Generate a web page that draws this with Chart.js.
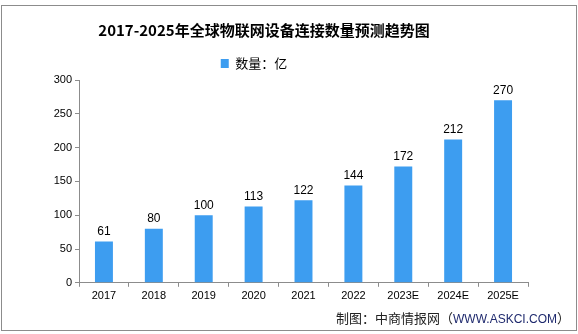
<!DOCTYPE html>
<html>
<head>
<meta charset="utf-8">
<script src="https://cdn.jsdelivr.net/npm/chart.js@4"></script>
<style>
  html, body { margin: 0; padding: 0; background: #fff; }
  #wrap { position: relative; width: 578px; height: 334px; }
  #frame {
    position: absolute; left: 1px; top: 5px; width: 576px; height: 326px;
    box-sizing: border-box; border: 1px solid #8c8c8c; pointer-events: none;
  }
  #source {
    position: absolute; right: 8px; top: 308px; white-space: nowrap;
    font: 13px "Noto Sans CJK SC", sans-serif; color: #222;
  }
  #source span { font: 12px "Liberation Sans", sans-serif; color: #1f2a6e; }
</style>
</head>
<body>
<div id="wrap">
  <canvas id="chart" width="578" height="334"></canvas>
  <div id="frame"></div>
  <div id="source">制图：中商情报网（<span>WWW.ASKCI.COM</span>）</div>
</div>
<script>
const years = ['2017', '2018', '2019', '2020', '2021', '2022', '2023E', '2024E', '2025E'];
const counts = [61, 80, 100, 113, 122, 144, 172, 212, 270];
const yTicks = [0, 50, 100, 150, 200, 250, 300];

const axisColor = '#8c8c8c';
const barColor = '#3d9df0';

// Value labels above each bar
const valueLabels = {
  id: 'valueLabels',
  afterDatasetsDraw(chart) {
    const ctx = chart.ctx;
    const meta = chart.getDatasetMeta(0);
    ctx.save();
    ctx.font = '12px "Liberation Sans", sans-serif';
    ctx.fillStyle = '#000';
    ctx.textAlign = 'center';
    ctx.textBaseline = 'bottom';
    meta.data.forEach((bar, i) => {
      ctx.fillText(String(counts[i]), bar.x, bar.y - 4);
    });
    ctx.restore();
  }
};

// Legend sits a little left of centre in the original
const legendShift = {
  id: 'legendShift',
  afterLayout(chart) {
    chart.legend.right -= 20;
  }
};

new Chart(document.getElementById('chart'), {
  type: 'bar',
  data: {
    labels: years,
    datasets: [{
      label: '数量：亿',
      data: counts,
      backgroundColor: barColor,
      barPercentage: 0.36,
      categoryPercentage: 1,
    }]
  },
  options: {
    responsive: false,
    animation: false,
    layout: { padding: { left: 0, right: 50, top: 0, bottom: 28 } },
    plugins: {
      title: {
        display: true,
        text: '2017-2025年全球物联网设备连接数量预测趋势图',
        color: '#000',
        font: { family: '"Noto Sans CJK SC", sans-serif', size: 15, weight: 'bold' },
        padding: { top: 21, bottom: 8 },
      },
      legend: {
        position: 'top',
        labels: {
          color: '#000',
          boxWidth: 8,
          boxHeight: 9,
          font: { family: '"Noto Sans CJK SC", sans-serif', size: 13 },
        },
      },
      tooltip: { enabled: false },
    },
    scales: {
      x: {
        border: { color: axisColor, width: 1 },
        grid: { drawOnChartArea: false, drawTicks: true, tickLength: 4, color: axisColor },
        ticks: {
          color: '#000',
          padding: 3,
          font: { family: '"Liberation Sans", sans-serif', size: 11 },
          maxRotation: 0,
        },
      },
      y: {
        min: 0,
        max: 300,
        afterFit(scale) { scale.width = 79; },
        afterBuildTicks(scale) { scale.ticks = yTicks.map(v => ({ value: v })); },
        border: { color: axisColor, width: 1 },
        grid: { drawOnChartArea: false, drawTicks: true, tickLength: 4, color: axisColor },
        ticks: {
          color: '#000',
          padding: 3,
          font: { family: '"Liberation Sans", sans-serif', size: 11 },
        },
      },
    },
  },
  plugins: [valueLabels, legendShift],
});
</script>
</body>
</html>
